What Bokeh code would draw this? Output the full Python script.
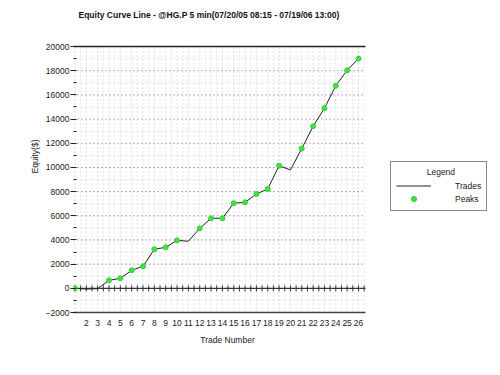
from bokeh.plotting import figure
from bokeh.models import (FixedTicker, LinearAxis, Legend, LegendItem, Label,
                          Range1d)
from bokeh.embed import file_html
from bokeh.resources import INLINE

# ---------------- data ----------------
title_text = "Equity Curve Line - @HG.P 5 min(07/20/05 08:15 - 07/19/06 13:00)"
x_axis_title = "Trade Number"
y_axis_title = "Equity($)"
trades = list(range(1, 27))
equity = [0, -60, -30, 660, 830, 1490, 1820, 3230, 3390, 3970, 3890, 4960,
          5790, 5790, 7040, 7110, 7800, 8220, 10140, 9790, 11560, 13400,
          14900, 16750, 18030, 19000]
peak_trades = [1, 4, 5, 6, 7, 8, 9, 10, 12, 13, 14, 15, 16, 17, 18, 19,
               21, 22, 23, 24, 25, 26]
y_ticks = [-2000, 0, 2000, 4000, 6000, 8000, 10000, 12000, 14000, 16000,
           18000, 20000]
y_minor_ticks = [-1000, 1000, 3000, 5000, 7000, 9000, 11000, 13000, 15000,
                 17000, 19000]
x_label_ticks = trades[1:]
zero_level = 0
legend_title = "Legend"
legend_labels = ["Trades", "Peaks"]

peak_equity = [equity[trades.index(t)] for t in peak_trades]
half_ticks = [t + 0.5 for t in trades]
zero_ticks = sorted(trades + half_ticks)

# ---------------- layout (pixels) ----------------
W, H = 492, 359
PLOT_L, PLOT_R, PLOT_T, PLOT_B = 73, 365, 46, 312   # plotting area
X_START, X_END = 0.87, 26.62
Y_START, Y_END = -2000, 20000
UX = (X_END - X_START) / (PLOT_R - PLOT_L)   # data units per px
UY = (Y_END - Y_START) / (PLOT_B - PLOT_T)
NBSP = "\u00a0"


def px_x(px):
    return X_START + (px - PLOT_L) * UX


def px_y(py):
    return Y_END + (PLOT_T - py) * UY


FONT = "Liberation Sans"
LINE_COLOR = "#222222"
PEAK_FILL = "#3fe03f"
PEAK_LINE = "#33d433"
TXT = "#222222"

p = figure(width=W, height=H, output_backend="svg", toolbar_location=None,
           x_range=Range1d(X_START, px_x(W)), y_range=Range1d(Y_START, px_y(0)),
           min_border_left=PLOT_L, min_border_right=0, min_border_top=0,
           min_border_bottom=H - PLOT_B, x_axis_location=None,
           y_axis_location=None)
p.outline_line_color = None
p.background_fill_color = "white"
p.border_fill_color = "white"
p.xgrid.visible = False
p.ygrid.visible = False

# grid lines drawn as segments limited to the plotting area
p.segment(x0=half_ticks, x1=half_ticks, y0=Y_START, y1=Y_END,
          line_color="#cccccc", line_dash="1 3", line_width=1)
p.segment(x0=trades, x1=trades, y0=Y_START, y1=Y_END,
          line_color="#b8b8b8", line_dash="1 3", line_width=1)
p.segment(x0=X_START, x1=X_END, y0=y_minor_ticks, y1=y_minor_ticks,
          line_color="#cccccc", line_dash="1 3", line_width=1)
p.segment(x0=X_START, x1=X_END, y0=y_ticks, y1=y_ticks,
          line_color="#666666", line_dash="1 3", line_width=1)

# axes
yax = LinearAxis(ticker=FixedTicker(ticks=y_ticks, minor_ticks=y_minor_ticks),
                 axis_label=y_axis_title, bounds=(Y_START, Y_END))
yax.axis_line_color = None
yax.major_tick_line_color = TXT
yax.major_tick_out = 3
yax.major_tick_in = 3
yax.minor_tick_line_color = TXT
yax.minor_tick_out = 0
yax.minor_tick_in = 3
yax.major_label_standoff = 1
yax.major_label_text_font = FONT
yax.major_label_text_font_size = "8.5px"
yax.major_label_text_color = TXT
yax.axis_label_text_font = FONT
yax.axis_label_text_font_size = "8.5px"
yax.axis_label_text_font_style = "normal"
yax.axis_label_text_color = TXT
yax.axis_label_standoff = 3
p.add_layout(yax, "left")

# the x-axis title is centred on the frame (which also holds the legend);
# trailing no-break spaces move the visible words under the plotting area
xax = LinearAxis(ticker=FixedTicker(ticks=x_label_ticks),
                 axis_label=x_axis_title + NBSP * 47, bounds=(X_START, X_END))
xax.axis_line_color = "#444444"
xax.axis_line_width = 1.5
xax.major_tick_out = 0
xax.major_tick_in = 0
xax.minor_tick_out = 0
xax.minor_tick_in = 0
xax.major_label_standoff = 7
xax.major_label_text_font = FONT
xax.major_label_text_font_size = "8.5px"
xax.major_label_text_color = TXT
xax.axis_label_text_font = FONT
xax.axis_label_text_font_size = "8.5px"
xax.axis_label_text_font_style = "normal"
xax.axis_label_text_color = TXT
xax.axis_label_standoff = 6
p.add_layout(xax, "below")

# top border line and zero line with tick crosses
p.segment(x0=X_START, x1=X_END, y0=Y_END, y1=Y_END, line_color=LINE_COLOR,
          line_width=1.5)
p.segment(x0=X_START, x1=X_END, y0=zero_level, y1=zero_level,
          line_color="#111111", line_width=1)
p.scatter(x=zero_ticks, y=[zero_level] * len(zero_ticks), marker="dash",
          angle=1.5708, size=6, line_color="#333333", line_width=1)

# data
line_r = p.line(trades, equity, line_color=LINE_COLOR, line_width=1)
peak_r = p.scatter(peak_trades, peak_equity, marker="circle", size=5,
                   fill_color=PEAK_FILL, line_color=PEAK_LINE, line_width=1)

# title
p.add_layout(Label(x=px_x(78), y=px_y(14), text=title_text, text_font=FONT,
                   text_font_size="8.5px", text_font_style="bold",
                   text_color="#111111", text_align="left",
                   text_baseline="middle"))

# legend (inside the frame, right of the plotting area)
legend = Legend(items=[LegendItem(label=legend_labels[0], renderers=[line_r]),
                       LegendItem(label=legend_labels[1], renderers=[peak_r])],
                location=(390 - PLOT_L, PLOT_B - 211),
                title=NBSP * 13 + legend_title)
legend.title_text_font = FONT
legend.title_text_font_size = "8.5px"
legend.title_text_font_style = "normal"
legend.title_text_color = TXT
legend.title_standoff = 2
legend.label_text_font = FONT
legend.label_text_font_size = "8.5px"
legend.label_text_color = TXT
legend.label_height = 13
legend.glyph_height = 13
legend.glyph_width = 35
legend.label_standoff = 24
legend.padding = 5
legend.spacing = 0
legend.margin = 0
legend.border_line_color = "#111111"
legend.border_line_width = 1
legend.background_fill_color = "white"
legend.background_fill_alpha = 1
p.add_layout(legend, "center")

open("out.html", "w").write(file_html(p, INLINE))
